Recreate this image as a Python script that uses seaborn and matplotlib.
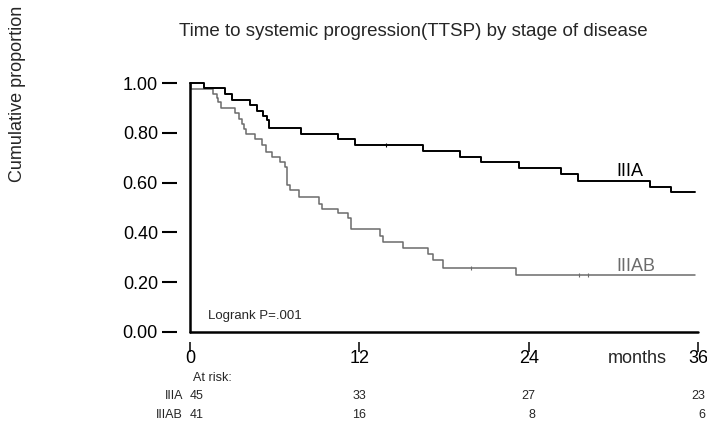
import numpy as np
import pandas as pd
import matplotlib
matplotlib.use("Agg")
import matplotlib.pyplot as plt
import seaborn as sns

# ---- data ----
groups = ["IIIA", "IIIAB"]
iiia_time = [0, 0.99, 2.48, 2.95, 4.25, 4.77, 5.15, 5.48, 5.62, 7.9, 10.5, 11.7,
             16.5, 19.1, 20.6, 23.3, 26.3, 27.5, 32.6, 34.1, 35.8]
iiia_surv = [1.0, 0.978, 0.956, 0.933, 0.911, 0.889, 0.867, 0.852, 0.82, 0.795,
             0.774, 0.751, 0.728, 0.704, 0.684, 0.657, 0.635, 0.608, 0.584, 0.561, 0.561]
iiiab_time = [0, 0.05, 1.65, 1.89, 2.01, 2.17, 3.19, 3.49, 3.66, 3.82, 3.94, 4.6,
              5.08, 5.38, 5.78, 6.37, 6.73, 6.89, 7.08, 7.74, 9.16, 9.32, 10.5,
              11.2, 11.4, 13.46, 13.7, 15.1, 16.9, 17.2, 17.9, 23.1, 35.8]
iiiab_surv = [1.0, 0.976, 0.956, 0.938, 0.922, 0.901, 0.878, 0.854, 0.835, 0.814,
              0.795, 0.774, 0.751, 0.724, 0.704, 0.684, 0.664, 0.59, 0.570, 0.543,
              0.514, 0.493, 0.477, 0.459, 0.412, 0.386, 0.363, 0.336, 0.313, 0.289,
              0.258, 0.229, 0.229]
iiia_censor_time = [13.9]
iiia_censor_surv = [0.751]
iiiab_censor_time = [19.9, 27.6, 28.2]
iiiab_censor_surv = [0.258, 0.229, 0.229]

x_ticks = [0, 12, 24, 36]
y_ticks = [0.0, 0.2, 0.4, 0.6, 0.8, 1.0]
risk_iiia = [45, 33, 27, 23]
risk_iiiab = [41, 16, 8, 6]

title = "Time to systemic progression(TTSP) by stage of disease"
ylabel = "Cumulative proportion"
logrank = "Logrank P=.001"

colors = {"IIIA": "#000000", "IIIAB": "#6b6b6b"}
widths = {"IIIA": 1.4, "IIIAB": 1.1}

# ---- build tables ----
df = pd.concat([
    pd.DataFrame({"time": iiia_time, "surv": iiia_surv, "group": "IIIA"}),
    pd.DataFrame({"time": iiiab_time, "surv": iiiab_surv, "group": "IIIAB"}),
], ignore_index=True)
cens = pd.concat([
    pd.DataFrame({"time": iiia_censor_time, "surv": iiia_censor_surv, "group": "IIIA"}),
    pd.DataFrame({"time": iiiab_censor_time, "surv": iiiab_censor_surv, "group": "IIIAB"}),
], ignore_index=True)

sns.set_theme(style="white")
plt.rcParams["font.family"] = ["Liberation Sans", "DejaVu Sans"]

W, H = 707, 421
fig = plt.figure(figsize=(W / 100, H / 100), dpi=100)
ax = fig.add_axes([190 / W, (H - 332) / H, 508 / W, 249 / H])

for g in ["IIIAB", "IIIA"]:
    sub = df[df["group"] == g]
    sns.lineplot(data=sub, x="time", y="surv", ax=ax, color=colors[g],
                 linewidth=widths[g], drawstyle="steps-post", estimator=None,
                 legend=False, clip_on=False, zorder=3 if g == "IIIA" else 2)
    cs = cens[cens["group"] == g]
    sns.scatterplot(data=cs, x="time", y="surv", ax=ax, color=colors[g],
                    marker="|", s=12, linewidth=0.8, legend=False, clip_on=False)

ax.set_xlim(0, 36)
ax.set_ylim(0, 1)
ax.set_xlabel("")
ax.set_ylabel("")

for s in ["top", "right"]:
    ax.spines[s].set_visible(False)
ax.spines["left"].set_position(("outward", 9.4))
ax.spines["bottom"].set_position(("outward", 7.2))
ax.spines["left"].set_color("none")
ax.spines["bottom"].set_color("none")

ax.axhline(0, xmin=0, xmax=1, color="black", lw=1.8, clip_on=False, zorder=4)
ax.axvline(0, ymin=0, ymax=1, color="black", lw=1.8, clip_on=False, zorder=4)

ax.set_yticks(y_ticks)
ax.set_yticklabels([f"{v:.2f}" for v in y_ticks])
ax.set_xticks(x_ticks)
ax.set_xticklabels([str(v) for v in x_ticks])
ax.tick_params(axis="y", direction="out", length=10.8, width=1.5, pad=2.9,
               labelsize=13, colors="black", left=True)
ax.tick_params(axis="x", direction="out", length=7.2, width=1.1, pad=-1.5,
               labelsize=13, colors="black", bottom=True)

ax.text(29.6, -0.072, "months", transform=ax.get_xaxis_transform(),
        ha="left", va="top", fontsize=13)

ax.text(30.2, 0.644, "IIIA", ha="left", va="center", fontsize=13, color=colors["IIIA"])
ax.text(30.2, 0.265, "IIIAB", ha="left", va="center", fontsize=13, color=colors["IIIAB"])
ax.text(1.27, 0.064, logrank, ha="left", va="center", fontsize=9.5)

# at-risk table
fs = 9
tr = ax.get_xaxis_transform()
ax.text(0.2, -0.183, "At risk:", transform=tr, ha="left", va="center", fontsize=fs)
ax.text(-0.5, -0.257, "IIIA", transform=tr, ha="right", va="center", fontsize=fs)
ax.text(-0.5, -0.333, "IIIAB", transform=tr, ha="right", va="center", fontsize=fs)
for i, t in enumerate(x_ticks):
    if i == 0:
        xpos, ha = t, "left"
    else:
        xpos, ha = t + 0.5, "right"
    ax.text(xpos, -0.257, str(risk_iiia[i]), transform=tr, ha=ha, va="center", fontsize=fs)
    ax.text(xpos, -0.333, str(risk_iiiab[i]), transform=tr, ha=ha, va="center", fontsize=fs)

fig.text(413.5 / W, 1 - 31 / H, title, ha="center", va="center", fontsize=13.5)
fig.text(18 / W, 1 - 93.5 / H, ylabel, ha="center", va="center", rotation=90, fontsize=13)

fig.savefig("out.png", dpi=100)
